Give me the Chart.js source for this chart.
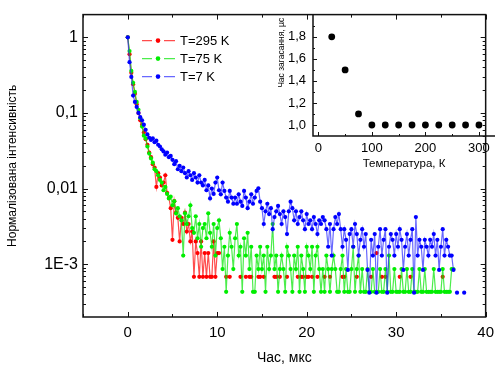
<!DOCTYPE html>
<html>
<head>
<meta charset="utf-8">
<script src="https://cdn.jsdelivr.net/npm/chart.js@4.4.1/dist/chart.umd.min.js"></script>
<style>
  body { margin: 0; background: #fff; }
  #wrap { position: relative; width: 501px; height: 367px; }
  #main { position: absolute; left: 0; top: 0; }
  #inset { position: absolute; left: 262px; top: 0; }
</style>
</head>
<body>
<div id="wrap">
  <canvas id="main" width="501" height="367"></canvas>
  <canvas id="inset" width="239" height="175"></canvas>
</div>
<script>
// sampling step of the decay curves, us
const dt = 0.2;

const seriesNames = ["T=295 K", "T=75 K", "T=7 K"];
const seriesColors = ["#ff0000", "#00ee00", "#0000ff"];
const lineColors = ["rgba(255,0,0,0.7)", "rgba(0,230,0,0.7)", "rgba(40,40,255,0.7)"];

// T=295 K
const red = [
  1, 0.6, 0.34, 0.24, 0.18, 0.13, 0.1, 0.08, 0.07, 0.055,
  0.045, 0.038, 0.03, 0.026, 0.021, 0.019, 0.0105, 0.016, 0.014, 0.011,
  0.012, 0.015, 0.0088, 0.0075, 0.0055, 0.0021, 0.0068, 0.0048, 0.0041, 0.002,
  0.0041, 0.0034, 0.0048, 0.0027, 0.0034, 0.002, 0.0027, 0.00068, 0.002, 0.0014,
  0.00068, 0.002, 0.00068, 0.0014, 0.00068, 0.0014, 0.00068, 0.00068, 0.002, 0.00068,
  0.0014, 0.0014, null, null, null, 0.00068, null, 0.00068, null, null,
  null, null, null, 0.00068, null, null, 0.00068, null, 0.00068, 0.00068,
  null, null, null, 0.00068, 0.00068, null, 0.00068, null, null, null,
  null, null, 0.00068, 0.00068, null, 0.00068, null, null, null, 0.00068,
  null, null, null, null, null, 0.00068, null, 0.00068, 0.00068, null,
  0.00068, 0.00068, null, 0.00068, null, null, 0.00068, null, null, null,
  0.00068, null, null, 0.00068, null, null, null, null, null, null,
  0.00068, 0.00068, null, null, null, null, null, null, 0.00068, null,
  null, null, null, null, null, null, 0.00068, null, null, 0.0014,
  null, null, 0.00068, null, 0.00068, null, null, null, null, null,
  null, null, 0.00068, null, null, null, null, null, 0.00068, null,
  null, null, null, null, null, null, null, null, null, null,
  null, null, null, null, null, null, 0.00068
];

// T=75 K
const green = [
  1, 0.66, 0.36, 0.25, 0.19, 0.14, 0.11, 0.085, 0.066, 0.05,
  0.046, 0.036, 0.029, 0.025, 0.022, 0.018, 0.017, 0.015, 0.013, 0.012,
  0.0095, 0.0105, 0.0085, 0.0074, 0.0078, 0.006, 0.0068, 0.0047, 0.0055, 0.0043,
  0.0038, 0.0013, 0.0047, 0.0034, 0.0043, 0.006, 0.003, 0.0026, 0.0043, 0.0022,
  0.0034, 0.0017, 0.003, 0.0034, 0.0022, 0.0047, 0.0026, 0.0017, 0.0034, 0.0013,
  0.003, 0.0038, 0.0022, 0.00086, 0.0017, 0.00043, 0.0013, 0.0026, 0.0017, 0.00086,
  0.0022, 0.0034, 0.0013, 0.0017, 0.00043, 0.0022, 0.0013, 0.0026, 0.00086, 0.0017,
  0.00043, 0.00043, 0.0013, 0.00086, 0.0017, 0.00086, 0.0013, 0.00043, 0.0017, 0.00086,
  0.0013, 0.0034, 0.00086, 0.0013, 0.00043, 0.00086, 0.0013, 0.00086, 0.00043, 0.0017,
  0.0013, 0.00086, 0.00043, 0.0013, 0.00086, 0.0017, 0.00043, 0.0013, 0.00086, 0.00043,
  0.0017, 0.0013, 0.00086, 0.0017, 0.00043, 0.0013, 0.0017, 0.00086, 0.00043, 0.00086,
  0.00043, 0.0013, 0.00086, 0.00043, 0.00086, 0.0013, 0.00086, 0.00043, 0.00043, 0.00086,
  0.0013, 0.00043, 0.00086, 0.00043, 0.00043, 0.00086, 0.0017, 0.00043, 0.00086, 0.0013,
  0.00043, 0.00086, 0.00043, 0.00043, 0.00086, 0.00043, 0.00043, 0.00086, 0.00043, 0.00043,
  0.00043, 0.00086, 0.00043, 0.00043, 0.00086, 0.00043, 0.0013, 0.00043, 0.00043, 0.00086,
  0.00043, 0.00043, 0.00043, 0.00086, 0.00043, 0.00043, 0.00086, 0.00043, 0.00043, 0.00086,
  0.00043, 0.00043, 0.00043, 0.00086, 0.00043, 0.00043, 0.00086, 0.00043, 0.00043, 0.00043,
  0.00043, 0.00086, 0.00043, 0.00043, 0.00043, 0.00043, 0.00086, 0.00043, 0.00043, 0.00043,
  0.00043, 0.00086, 0.00086
];

// T=7 K
const blue = [
  1, 0.47, 0.3, 0.17, 0.14, 0.12, 0.1, 0.088, 0.08, 0.07,
  0.06, 0.052, 0.047, 0.044, 0.046, 0.041, 0.043, 0.038, 0.036, 0.033,
  0.031, 0.028, 0.03, 0.026, 0.027, 0.024, 0.021, 0.023, 0.018, 0.02,
  0.017, 0.019, 0.016, 0.014, 0.017, 0.015, 0.013, 0.016, 0.014, 0.012,
  0.015, 0.012, 0.011, 0.013, 0.0095, 0.011, 0.0074, 0.01, 0.0085, 0.012,
  0.014, 0.0095, 0.0084, 0.012, 0.0093, 0.0076, 0.0067, 0.0093, 0.0076, 0.0063,
  0.0076, 0.0063, 0.0084, 0.0067, 0.0059, 0.0093, 0.0076, 0.0055, 0.0067, 0.0084,
  0.0063, 0.0076, 0.0093, 0.0101, 0.0067, 0.0055, 0.0034, 0.005, 0.0063, 0.0046,
  0.0055, 0.0029, 0.0042, 0.005, 0.0059, 0.0046, 0.0034, 0.005, 0.0042, 0.0025,
  0.005, 0.0067, 0.0055, 0.0038, 0.005, 0.0034, 0.0042, 0.005, 0.0038, 0.0029,
  0.0046, 0.0034, 0.0038, 0.0029, 0.0042, 0.0034, 0.0025, 0.0038, 0.0034, 0.0042,
  0.0038, 0.0029, 0.0017, 0.0034, 0.0013, 0.0029, 0.0042, 0.0034, 0.0046, 0.0029,
  0.0017, 0.0029, 0.0021, 0.00084, 0.0025, 0.0029, 0.0017, 0.0034, 0.0025, 0.0013,
  0.0021, 0.0029, 0.0017, 0.0025, 0.00084, 0.00042, 0.0021, 0.0013, 0.0025, 0.00042,
  0.0017, 0.0029, 0.0013, 0.0021, 0.0029, 0.00042, 0.0017, 0.0025, 0.0021, 0.0013,
  0.0025, 0.0017, 0.0029, 0.0021, 0.00084, 0.0017, 0.0025, 0.0013, 0.0021, 0.0029,
  0.00042, 0.0042, 0.0013, 0.0021, 0.0017, 0.00084, 0.0021, 0.0017, 0.0013, 0.0021,
  0.0017, 0.0025, 0.0013, 0.0021, 0.00084, 0.0017, 0.0029, 0.0013, 0.0021, 0.0017,
  0.0013, 0.0013, 0.00084, null, 0.00042, null, null, null, 0.00042
];

const xTicks = [0, 10, 20, 30, 40];
const xMinor = [-5, 5, 15, 25, 35];
const yTicks = [1, 0.1, 0.01, 0.001];
const yTickLabels = ["1", "0,1", "0,01", "1E-3"];

// inset: decay time vs temperature
const insetTemp = [25, 50, 75, 100, 125, 150, 175, 200, 225, 250, 275, 300];
const insetTau = [1.8, 1.5, 1.1, 1.0, 1.0, 1.0, 1.0, 1.0, 1.0, 1.0, 1.0, 1.0];
const insetXTicks = [0, 100, 200, 300];
const insetXMinor = [50, 150, 250];
const insetYTicks = [1.0, 1.2, 1.4, 1.6, 1.8];
const insetYTickLabels = ["1,0", "1,2", "1,4", "1,6", "1,8"];
const insetYMinor = [1.1, 1.3, 1.5, 1.7, 1.9];
const insetYTitle = "Час загасання, µс";

const FONT = "'Liberation Sans', Arial, sans-serif";

function toPoints(arr) {
  return arr.map((v, i) => ({ x: +(i * dt).toFixed(1), y: v }));
}

function makeSet(arr, k) {
  return {
    label: seriesNames[k],
    data: toPoints(arr),
    borderColor: lineColors[k],
    borderWidth: 1.2,
    pointRadius: 2.1,
    pointBorderWidth: 0,
    pointBackgroundColor: seriesColors[k],
    spanGaps: false,
    tension: 0
  };
}

const mainFrame = {
  id: "mainFrame",
  afterDraw(chart) {
    const { ctx, chartArea: a, scales: { x, y } } = chart;
    ctx.save();
    ctx.strokeStyle = "#111";
    ctx.lineWidth = 1.5;
    ctx.strokeRect(a.left, a.top, a.right - a.left, a.bottom - a.top);
    ctx.lineWidth = 1;
    ctx.beginPath();
    const vt = (v, len) => {
      const px = Math.round(x.getPixelForValue(v)) + 0.5;
      ctx.moveTo(px, a.bottom); ctx.lineTo(px, a.bottom - len);
      ctx.moveTo(px, a.top); ctx.lineTo(px, a.top + len);
    };
    const ht = (v, len) => {
      const py = Math.round(y.getPixelForValue(v)) + 0.5;
      ctx.moveTo(a.left, py); ctx.lineTo(a.left + len, py);
      ctx.moveTo(a.right, py); ctx.lineTo(a.right - len, py);
    };
    xTicks.forEach(v => vt(v, 5));
    xMinor.forEach(v => vt(v, 3));
    yTicks.forEach(v => ht(v, 5));
    [0.0001, 0.001, 0.01, 0.1, 1].forEach(d => {
      for (let m = 2; m <= 9; m++) {
        const v = m * d;
        if (v > y.min && v < y.max) ht(v, 3);
      }
    });
    ctx.stroke();

    // legend
    ctx.font = "13px " + FONT;
    ctx.textBaseline = "middle";
    seriesNames.forEach((name, k) => {
      const ly = a.top + 26 + k * 18;
      const lx = a.left + 59;
      ctx.strokeStyle = lineColors[k];
      ctx.lineWidth = 1.2;
      ctx.beginPath();
      ctx.moveTo(lx, ly); ctx.lineTo(lx + 10, ly);
      ctx.moveTo(lx + 22, ly); ctx.lineTo(lx + 33, ly);
      ctx.stroke();
      ctx.fillStyle = seriesColors[k];
      ctx.beginPath();
      ctx.arc(lx + 16, ly, 2.3, 0, Math.PI * 2);
      ctx.fill();
      ctx.fillStyle = "#000";
      ctx.fillText(name, lx + 38, ly + 1);
    });
    ctx.restore();
  }
};

new Chart(document.getElementById("main"), {
  type: "line",
  data: {
    datasets: [makeSet(blue, 2), makeSet(green, 1), makeSet(red, 0)]
  },
  options: {
    responsive: false,
    animation: false,
    devicePixelRatio: 1,
    layout: { padding: { top: 10, right: 6, left: 0, bottom: 0 } },
    plugins: { legend: { display: false }, tooltip: { enabled: false } },
    scales: {
      x: {
        type: "linear",
        min: -5,
        max: 40,
        afterBuildTicks: s => { s.ticks = xTicks.map(v => ({ value: v })); },
        afterFit: s => { s.height = 50; },
        grid: { display: false, drawTicks: false },
        border: { display: false },
        ticks: { font: { family: FONT, size: 15 }, color: "#000", padding: 7, maxRotation: 0 },
        title: { display: true, text: "Час, мкс", font: { family: FONT, size: 14 }, color: "#000", padding: { top: 0, bottom: 0 } }
      },
      y: {
        type: "logarithmic",
        min: 0.0002,
        max: 2,
        afterBuildTicks: s => { s.ticks = yTicks.map(v => ({ value: v })); },
        afterFit: s => { s.width = 83; },
        grid: { display: false, drawTicks: false },
        border: { display: false },
        ticks: {
          font: { family: FONT, size: 16 },
          color: "#000",
          padding: 5,
          callback: v => yTickLabels[yTicks.indexOf(v)] ?? ""
        },
        title: { display: true, text: "Нормалізована інтенсивність", font: { family: FONT, size: 12 }, color: "#000", padding: { top: 5, bottom: 0 } }
      }
    }
  },
  plugins: [mainFrame]
});

const insetFrame = {
  id: "insetFrame",
  afterDraw(chart) {
    const { ctx, chartArea: a, scales: { x, y } } = chart;
    ctx.save();
    ctx.strokeStyle = "#111";
    ctx.lineWidth = 1.5;
    ctx.beginPath();
    ctx.moveTo(a.left, a.top); ctx.lineTo(a.left, a.bottom); ctx.lineTo(a.right, a.bottom);
    ctx.stroke();
    ctx.lineWidth = 1;
    ctx.beginPath();
    insetXTicks.forEach(v => {
      const px = Math.round(x.getPixelForValue(v)) + 0.5;
      ctx.moveTo(px, a.bottom); ctx.lineTo(px, a.bottom - 4);
    });
    insetXMinor.forEach(v => {
      const px = Math.round(x.getPixelForValue(v)) + 0.5;
      ctx.moveTo(px, a.bottom); ctx.lineTo(px, a.bottom - 2);
    });
    insetYTicks.forEach(v => {
      const py = Math.round(y.getPixelForValue(v)) + 0.5;
      ctx.moveTo(a.left, py); ctx.lineTo(a.left + 4, py);
    });
    insetYMinor.forEach(v => {
      const py = Math.round(y.getPixelForValue(v)) + 0.5;
      ctx.moveTo(a.left, py); ctx.lineTo(a.left + 2, py);
    });
    ctx.stroke();

    // y title sits near the top of the inset axis
    ctx.translate(a.left - 31, a.top + 38);
    ctx.rotate(-Math.PI / 2);
    ctx.font = "8.5px " + FONT;
    ctx.fillStyle = "#000";
    ctx.textAlign = "center";
    ctx.textBaseline = "middle";
    ctx.fillText(insetYTitle, 0, 0);
    ctx.restore();
  }
};

new Chart(document.getElementById("inset"), {
  type: "scatter",
  data: {
    datasets: [{
      data: insetTemp.map((t, i) => ({ x: t, y: insetTau[i] })),
      pointRadius: 3.4,
      pointBorderWidth: 0,
      pointBackgroundColor: "#000",
      showLine: false
    }]
  },
  options: {
    responsive: false,
    animation: false,
    devicePixelRatio: 1,
    layout: { padding: { top: 10, right: 6, left: 0, bottom: 0 } },
    plugins: { legend: { display: false }, tooltip: { enabled: false } },
    scales: {
      x: {
        type: "linear",
        min: -10,
        max: 330,
        afterBuildTicks: s => { s.ticks = insetXTicks.map(v => ({ value: v })); },
        afterFit: s => { s.height = 39; },
        grid: { display: false, drawTicks: false },
        border: { display: false },
        ticks: { font: { family: FONT, size: 13 }, color: "#000", padding: 5, maxRotation: 0 },
        title: { display: true, text: "Температура, К", font: { family: FONT, size: 11.5 }, color: "#000", padding: { top: 0, bottom: 4 } }
      },
      y: {
        type: "linear",
        min: 0.9,
        max: 2.0,
        afterBuildTicks: s => { s.ticks = insetYTicks.map(v => ({ value: v })); },
        afterFit: s => { s.width = 51; },
        grid: { display: false, drawTicks: false },
        border: { display: false },
        ticks: {
          font: { family: FONT, size: 13 },
          color: "#000",
          padding: 7,
          callback: v => insetYTickLabels[insetYTicks.findIndex(t => Math.abs(t - v) < 1e-6)] ?? ""
        }
      }
    }
  },
  plugins: [insetFrame]
});
</script>
</body>
</html>
